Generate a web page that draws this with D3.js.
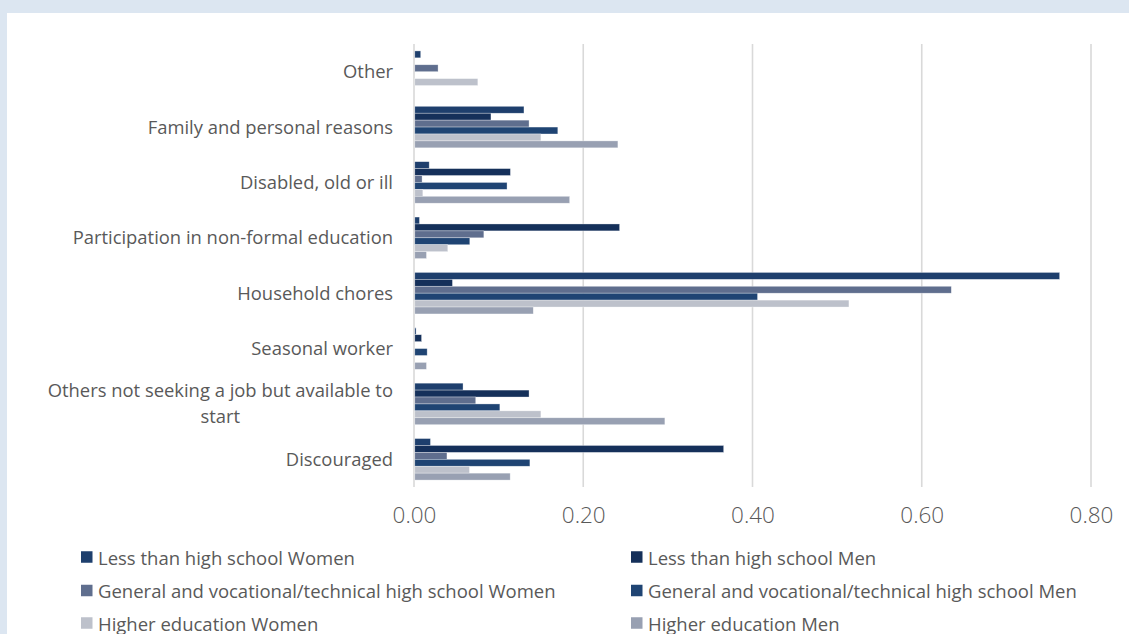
<!DOCTYPE html>
<html>
<head>
<meta charset="utf-8">
<script src="https://cdn.jsdelivr.net/npm/d3@7"></script>
<style>
  html, body { margin: 0; padding: 0; background: #dce6f1; }
  svg { display: block; }
  text { font-family: "Open Sans", sans-serif; fill: #595959; }
</style>
</head>
<body>
<svg id="chart" width="1129" height="634"></svg>
<script>
const categories = [
  "Other",
  "Family and personal reasons",
  "Disabled, old or ill",
  "Participation in non-formal education",
  "Household chores",
  "Seasonal worker",
  "Others not seeking a job but available to start",
  "Discouraged"
];
const seriesNames = [
  "Less than high school Women",
  "Less than high school Men",
  "General and vocational/technical high school Women",
  "General and vocational/technical high school Men",
  "Higher education Women",
  "Higher education Men"
];
const lthsWomen = [0.007, 0.129, 0.017, 0.0055, 0.762, 0.0015, 0.057, 0.0185];
const lthsMen   = [0,     0.090, 0.113, 0.242,  0.0445, 0.008, 0.135, 0.365];
const genWomen  = [0.0275, 0.135, 0.0086, 0.0816, 0.634, 0,    0.072, 0.038];
const genMen    = [0,     0.169, 0.109, 0.065,  0.405, 0.0146, 0.1005, 0.136];
const heWomen   = [0.0745, 0.149, 0.0095, 0.039, 0.513, 0,    0.149, 0.0646];
const heMen     = [0,     0.240, 0.183, 0.0138, 0.140, 0.0138, 0.2955, 0.1127];
const tickValues = [0, 0.2, 0.4, 0.6, 0.8];
const colors = ["#1e3f6d", "#15305a", "#5f6e8e", "#1f4473", "#bdc1cb", "#98a0b2"];

const seriesValues = [lthsWomen, lthsMen, genWomen, genMen, heWomen, heMen];
const rows = [];
categories.forEach((c, i) => {
  seriesNames.forEach((s, j) => rows.push({cat: c, series: s, value: seriesValues[j][i], idx: j}));
});

const svg = d3.select("#chart");
// white panel
svg.append("rect").attr("x", 7).attr("y", 13).attr("width", 1129 - 7).attr("height", 634 - 13).attr("fill", "#ffffff");

const x = d3.scaleLinear().domain([0, 0.8]).range([414, 1091]);
const y = d3.scaleBand().domain(categories).range([44, 487]).paddingInner(0.25).paddingOuter(0.125);
const ySub = d3.scaleBand().domain(seriesNames).range([0, y.bandwidth()]);
const color = d3.scaleOrdinal().domain(seriesNames).range(colors);

// gridlines
svg.append("g").selectAll("line").data(tickValues).join("line")
  .attr("x1", d => x(d)).attr("x2", d => x(d))
  .attr("y1", 44).attr("y2", 487)
  .attr("stroke", "#d9d9d9").attr("stroke-width", 1.6);

// bars
svg.append("g").selectAll("rect").data(rows.filter(r => r.value > 0)).join("rect")
  .attr("x", x(0) + 0.8)
  .attr("y", d => y(d.cat) + ySub(d.series))
  .attr("width", d => Math.max(0, x(d.value) - x(0)))
  .attr("height", ySub.bandwidth())
  .attr("fill", d => color(d.series))
  .attr("stroke", "#ffffff").attr("stroke-opacity", 0.55).attr("stroke-width", 0.6);

// x tick labels
const xAxis = d3.axisBottom(x).tickValues(tickValues).tickFormat(d3.format(".2f")).tickSize(0).tickPadding(0);
const gx = svg.append("g").attr("transform", "translate(0,507)").call(xAxis);
gx.select(".domain").remove();
gx.selectAll("text")
  .style("font-family", "'Open Sans', sans-serif")
  .style("font-size", "22.5px").style("font-weight", 300).attr("fill", "#595959");

// category labels
const labelX = 393;
const fs = "18.4px";
const gy = svg.append("g");
categories.forEach(c => {
  const cy = y(c) + y.bandwidth() / 2;
  if (c.startsWith("Others not seeking")) {
    const l1 = "Others not seeking a job but available to", l2 = "start";
    const t1 = gy.append("text").attr("x", labelX).attr("y", cy - 14)
      .attr("text-anchor", "end").attr("dominant-baseline", "central")
      .style("font-size", fs).text(l1);
    const w = t1.node().getComputedTextLength();
    gy.append("text").attr("x", labelX - w / 2).attr("y", cy + 12)
      .attr("text-anchor", "middle").attr("dominant-baseline", "central")
      .style("font-size", fs).text(l2);
  } else {
    gy.append("text").attr("x", labelX).attr("y", cy - 1)
      .attr("text-anchor", "end").attr("dominant-baseline", "central")
      .style("font-size", fs).text(c);
  }
});

// legend
const legendCols = [81, 631];
const legendRows = [557, 590.5, 623];
const lg = svg.append("g");
seriesNames.forEach((s, i) => {
  const col = i % 2, row = Math.floor(i / 2);
  const lx = legendCols[col], ly = legendRows[row];
  lg.append("rect").attr("x", lx).attr("y", ly - 5.75).attr("width", 11.5).attr("height", 11.5).attr("fill", color(s));
  lg.append("text").attr("x", lx + 17).attr("y", ly).attr("dominant-baseline", "central")
    .style("font-size", "18.5px").text(s);
});
</script>
</body>
</html>
